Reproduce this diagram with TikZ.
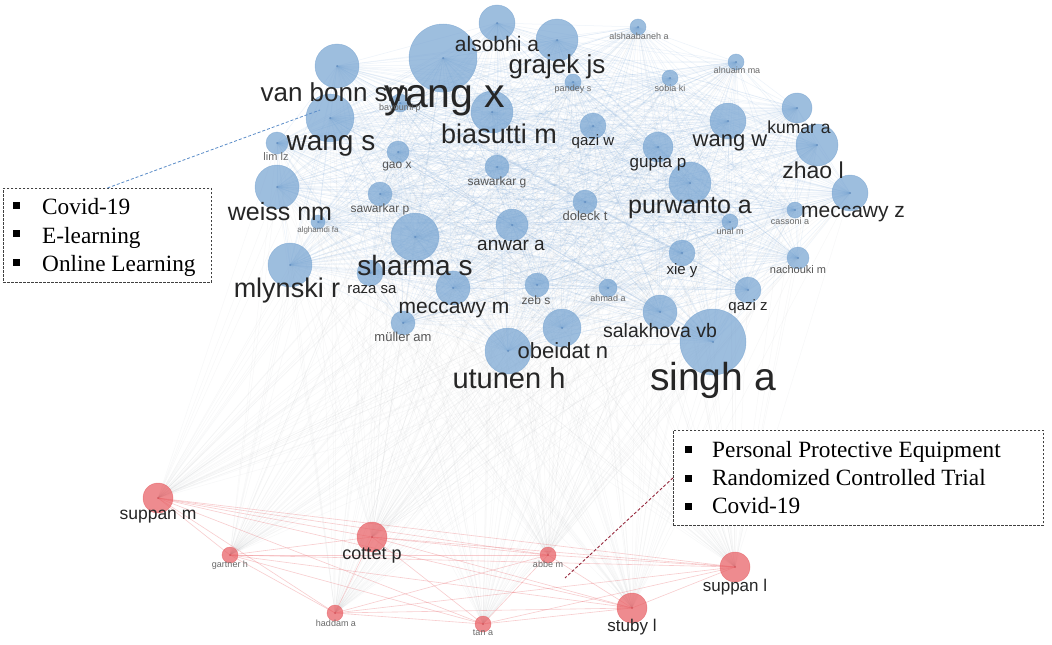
\documentclass[tikz,border=0pt]{standalone}
\usepackage{fontspec}
\setmainfont{Liberation Serif}
\newfontfamily\labfont{Liberation Sans}
\usetikzlibrary{backgrounds}
\definecolor{bluefill}{RGB}{120,165,210}
\definecolor{bluedot}{RGB}{70,120,180}
\definecolor{redfill}{RGB}{232,95,100}
\definecolor{reddot}{RGB}{200,60,70}
\definecolor{labdark}{RGB}{38,38,38}
\definecolor{labmid}{RGB}{85,85,85}
\definecolor{labtiny}{RGB}{105,105,105}
\definecolor{edgeblue}{RGB}{110,160,215}
\definecolor{edgered}{RGB}{235,110,115}
\definecolor{edgegray}{RGB}{150,155,160}
\definecolor{lineblue}{RGB}{90,140,200}
\definecolor{linered}{RGB}{150,40,60}
\tikzset{
  bnode/.style={circle, inner sep=0pt, fill=bluefill, fill opacity=0.72, draw=bluefill, draw opacity=0.6, line width=0.5pt},
  rnode/.style={circle, inner sep=0pt, fill=redfill, fill opacity=0.72, draw=redfill, draw opacity=0.6, line width=0.5pt},
  lab/.style={inner sep=0pt},
  bedge/.style={draw=edgeblue, draw opacity=0.13, line width=0.5pt},
  gedge/.style={draw=edgegray, draw opacity=0.07, line width=0.5pt},
  redge/.style={draw=edgered, draw opacity=0.35, line width=0.6pt},
  legbox/.style={draw=black!75, dashed, dash pattern=on 2.2pt off 1.8pt, line width=0.8pt, fill=white, inner sep=0pt, anchor=north west},
  bulletsq/.style={fill=black, minimum size=7pt, inner sep=0pt},
  legtext/.style={anchor=base west, inner sep=0pt, font=\fontsize{23.3}{23.3}\selectfont, text=black},
}
\newcommand\bn[4]{\node[bnode, minimum size=#4*2pt] (#1) at (#2,#3) {};\fill[bluedot, opacity=0.5] (#2,#3) circle (1pt);}
\newcommand\rn[4]{\node[rnode, minimum size=#4*2pt] (#1) at (#2,#3) {};\fill[reddot, opacity=0.5] (#2,#3) circle (1pt);}
\newcommand\lab[6]{\node[lab, text=#5, font=\labfont\fontsize{#4}{#4}\selectfont] (#1-l) at (#2,#3) {#6};}
\def\blist{yangx,alsobhi,grajek,vanbonn,wangs,limlz,bayoumi,biasutti,gaox,sawarkarg,weiss,sawarkarp,alghamdi,sharma,anwar,mlynski,raza,meccawym,muller,zeb,ahmad,obeidat,utunen,salakhova,singh,qaziz,xie,nachouki,unal,cassoni,meccawyz,zhao,purwanto,gupta,doleck,qaziw,wangw,kumar,alshaab,alnuaim,sobia,pandey}
\def\rlist{suppanm,cottet,gartner,haddam,tan,abbe,suppanl,stuby}
\begin{document}
\begin{tikzpicture}[x=1pt,y=-1pt]
\useasboundingbox (0,0) rectangle (1052,645);
% blue nodes
\bn{yangx}{443}{58}{34}
\bn{alsobhi}{497}{23}{18}
\bn{grajek}{557}{40}{21}
\bn{vanbonn}{337}{66}{22}
\bn{wangs}{330}{118}{24}
\bn{limlz}{277}{143}{11}
\bn{bayoumi}{400}{103}{9}
\bn{biasutti}{492}{112}{21}
\bn{gaox}{398}{152}{11}
\bn{sawarkarg}{497}{167}{12}
\bn{weiss}{277}{187}{22}
\bn{sawarkarp}{380}{194}{12}
\bn{alghamdi}{318}{222}{7}
\bn{sharma}{415}{237}{24}
\bn{anwar}{512}{225}{16}
\bn{mlynski}{290}{265}{22}
\bn{raza}{370}{273}{13}
\bn{meccawym}{453}{288}{17}
\bn{muller}{403}{323}{12}
\bn{zeb}{537}{285}{12}
\bn{ahmad}{608}{288}{9}
\bn{obeidat}{562}{328}{19}
\bn{utunen}{508}{351}{23}
\bn{salakhova}{660}{312}{17}
\bn{singh}{713}{342}{33}
\bn{qaziz}{748}{290}{13}
\bn{xie}{682}{253}{13}
\bn{nachouki}{798}{258}{11}
\bn{unal}{730}{222}{8}
\bn{cassoni}{795}{210}{8}
\bn{meccawyz}{850}{193}{18}
\bn{zhao}{817}{145}{21}
\bn{purwanto}{690}{183}{21}
\bn{gupta}{658}{147}{15}
\bn{doleck}{585}{202}{12}
\bn{qaziw}{593}{126}{13}
\bn{wangw}{728}{121}{18}
\bn{kumar}{797}{108}{15}
\bn{alshaab}{638}{27}{8}
\bn{alnuaim}{736}{62}{8}
\bn{sobia}{670}{78}{8}
\bn{pandey}{573}{82}{8}
% red nodes
\rn{suppanm}{158}{498}{15}
\rn{cottet}{372}{537}{15}
\rn{gartner}{230}{555}{8}
\rn{haddam}{335}{613}{8}
\rn{tan}{483}{624}{8}
\rn{abbe}{548}{555}{8}
\rn{suppanl}{735}{567}{15}
\rn{stuby}{632}{608}{15}
% edges
\begin{scope}[on background layer]
\fill[white] (0,0) rectangle (1052,645);
\foreach \a [count=\i] in \blist {
  \foreach \b [count=\j] in \blist {
    \ifnum\i<\j \draw[bedge] (\a.center) -- (\b.center); \fi
  }
}
\foreach \a in \rlist {
  \foreach \b in \blist {
    \draw[gedge] (\a.center) -- (\b.center);
  }
}
\foreach \a [count=\i] in \rlist {
  \foreach \b [count=\j] in \rlist {
    \ifnum\i<\j \draw[redge] (\a.center) -- (\b.center); \fi
  }
}
\end{scope}
% labels
\lab{yangx}{445}{101}{41}{labdark}{yang x}
\lab{alsobhi}{497}{44}{21}{labdark}{alsobhi a}
\lab{grajek}{557}{67}{26}{labdark}{grajek js}
\lab{vanbonn}{335}{92}{26}{labdark}{van bonn sm}
\lab{wangs}{331}{146}{28}{labdark}{wang s}
\lab{limlz}{276}{157}{11}{labtiny}{lim lz}
\lab{bayoumi}{400}{108}{9}{labtiny}{bayoumi p}
\lab{biasutti}{499}{134}{27}{labdark}{biasutti m}
\lab{gaox}{397}{167}{12}{labmid}{gao x}
\lab{sawarkarg}{497}{182}{12}{labmid}{sawarkar g}
\lab{weiss}{280}{212}{25}{labdark}{weiss nm}
\lab{sawarkarp}{380}{209}{12}{labmid}{sawarkar p}
\lab{alghamdi}{318}{230}{8}{labtiny}{alghamdi fa}
\lab{sharma}{415}{265}{28}{labdark}{sharma s}
\lab{anwar}{511}{245}{19}{labdark}{anwar a}
\lab{mlynski}{287}{291}{27}{labdark}{mlynski r}
\lab{raza}{372}{290}{15}{labdark}{raza sa}
\lab{meccawym}{454}{310}{21}{labdark}{meccawy m}
\lab{muller}{403}{337}{13}{labmid}{müller am}
\lab{zeb}{536}{300}{12}{labmid}{zeb s}
\lab{ahmad}{608}{298}{9}{labtiny}{ahmad a}
\lab{obeidat}{563}{351}{22}{labdark}{obeidat n}
\lab{utunen}{509}{378}{29}{labdark}{utunen h}
\lab{salakhova}{660}{331}{19.5}{labdark}{salakhova vb}
\lab{singh}{713}{380}{39}{labdark}{singh a}
\lab{qaziz}{748}{307}{15}{labdark}{qazi z}
\lab{xie}{682}{271}{15}{labdark}{xie y}
\lab{nachouki}{798}{270}{11}{labmid}{nachouki m}
\lab{unal}{730}{231}{9}{labtiny}{unal m}
\lab{cassoni}{790}{221}{9}{labtiny}{cassoni a}
\lab{meccawyz}{853}{214}{21}{labdark}{meccawy z}
\lab{zhao}{813}{170}{23}{labdark}{zhao l}
\lab{purwanto}{690}{208}{25}{labdark}{purwanto a}
\lab{gupta}{658}{164}{17}{labdark}{gupta p}
\lab{doleck}{585}{216}{13}{labmid}{doleck t}
\lab{qaziw}{593}{142}{15}{labdark}{qazi w}
\lab{wangw}{730}{143}{22}{labdark}{wang w}
\lab{kumar}{799}{127}{17.5}{labdark}{kumar a}
\lab{alshaab}{639}{36}{9}{labtiny}{alshaabaneh a}
\lab{alnuaim}{737}{70}{9}{labtiny}{alnuaim ma}
\lab{sobia}{670}{88}{9}{labtiny}{sobia ki}
\lab{pandey}{573}{89}{9}{labtiny}{pandey s}
\lab{suppanm}{158}{517}{17.5}{labdark}{suppan m}
\lab{cottet}{372}{556}{18}{labdark}{cottet p}
\lab{gartner}{230}{565}{9}{labtiny}{gartner h}
\lab{haddam}{336}{623}{9}{labtiny}{haddam a}
\lab{tan}{483}{633}{9}{labtiny}{tan a}
\lab{abbe}{548}{564}{9}{labtiny}{abbe m}
\lab{suppanl}{735}{587}{17}{labdark}{suppan l}
\lab{stuby}{632}{627}{17}{labdark}{stuby l}
% legend boxes
\node[legbox, minimum width=208pt, minimum height=94pt] (box1) at (3,188) {};
\node[bulletsq] (b11) at (16.5,205) {};
\node[bulletsq] (b12) at (16.5,233) {};
\node[bulletsq] (b13) at (16.5,262) {};
\node[legtext] (t11) at (42,214) {Covid-19};
\node[legtext] (t12) at (42,243) {E-learning};
\node[legtext] (t13) at (42,271) {Online Learning};
\node[legbox, minimum width=370pt, minimum height=95pt] (box2) at (673,430) {};
\node[bulletsq] (b21) at (688,449) {};
\node[bulletsq] (b22) at (688,478) {};
\node[bulletsq] (b23) at (688,506) {};
\node[legtext] (t21) at (712,457) {Personal Protective Equipment};
\node[legtext] (t22) at (712,485) {Randomized Controlled Trial};
\node[legtext] (t23) at (712,513) {Covid-19};
% pointer lines
\coordinate (c1) at (320,110);
\coordinate (c2) at (565,578);
\draw[lineblue, dashed, dash pattern=on 3pt off 2pt, line width=0.8pt] (box1.north) -- (c1);
\draw[linered, dashed, dash pattern=on 3pt off 2pt, line width=0.9pt] (box2.west) -- (c2);
\end{tikzpicture}
\end{document}
